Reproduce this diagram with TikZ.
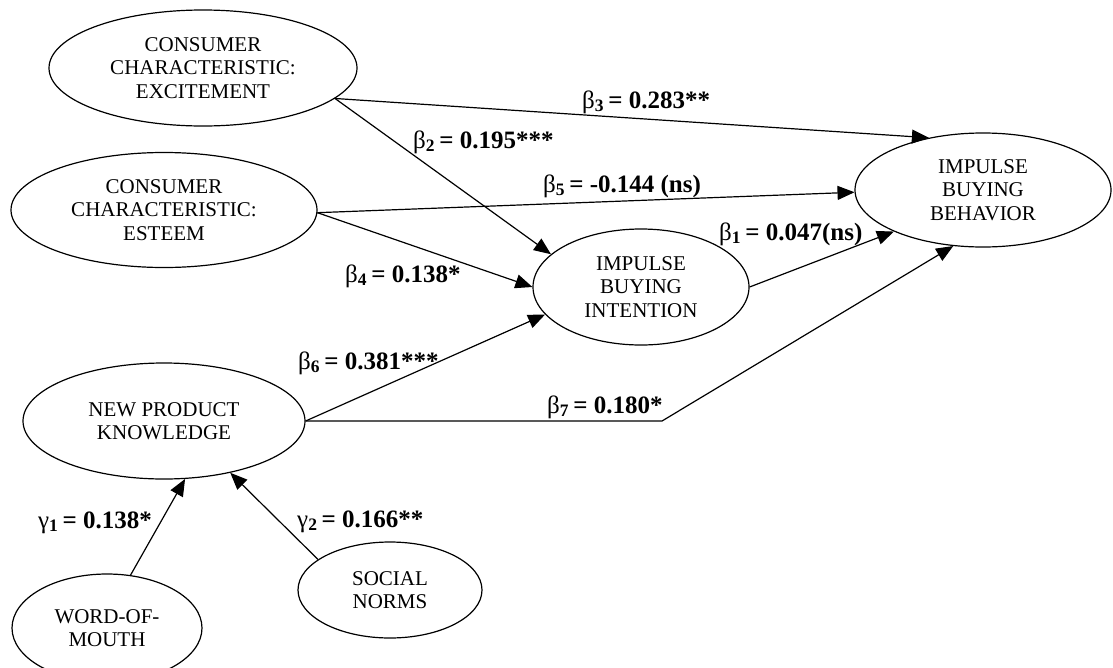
\documentclass[tikz,border=0pt]{standalone}
\usepackage{fontspec}
\setmainfont{Liberation Serif}
\usetikzlibrary{shapes.geometric, arrows.meta}

\newcommand{\pathcoef}[2]{{\mdseries #1}\textsubscript{#2}\,= }

\begin{document}
\begin{tikzpicture}[x=1pt, y=-1pt]
        \tikzset{construct/.style={ellipse,draw,line width=1.2pt,inner sep=0pt,align=center,font=\fontsize{21}{23.5}\selectfont}}
        \tikzset{link/.style={draw,line width=1.2pt,-{Triangle[length=17pt,width=14pt]}}}
        \tikzset{coef/.style={anchor=base west,inner sep=0pt,font=\fontsize{25}{29}\selectfont\bfseries}}
        \useasboundingbox (0,0) rectangle (1113,667);

        \node[construct,minimum width=308pt,minimum height=116pt] (exc) at (203, 68) {CONSUMER\\CHARACTERISTIC:\\EXCITEMENT};
        \node[construct,minimum width=306pt,minimum height=115pt] (est) at (164, 210) {CONSUMER\\CHARACTERISTIC:\\ESTEEM};
        \node[construct,minimum width=256pt,minimum height=114pt] (beh) at (983, 190) {IMPULSE\\BUYING\\BEHAVIOR};
        \node[construct,minimum width=216pt,minimum height=116pt] (int) at (641, 287) {IMPULSE\\BUYING\\INTENTION};
        \node[construct,minimum width=282pt,minimum height=116pt] (npk) at (164, 421) {NEW PRODUCT\\KNOWLEDGE};
        \node[construct,minimum width=190pt,minimum height=108pt] (wom) at (107, 628) {WORD-OF-\\MOUTH};
        \node[construct,minimum width=184pt,minimum height=96pt] (sn) at (390, 590) {SOCIAL\\NORMS};
        \coordinate (bend) at (662, 421);

        \draw[link] (exc.-13) -- (beh.136);
        \draw[link] (exc.-13) -- (int.160);
        \draw[link] (est.-1) -- (beh.181);
        \draw[link] (est.-1) -- (int.180);
        \draw[link] (int.0) -- (beh.205);
        \draw[link] (npk.0) -- (int.196);
        \draw[link] (npk.0) -- (bend) -- (beh.242);
        \draw[link] (wom.66) -- (npk.-70);
        \draw[link] (sn.157) -- (npk.-38);

        \node[coef] (b3) at (582, 108) {\pathcoef{β}{3}0.283**};
        \node[coef] (b2) at (413, 148) {\pathcoef{β}{2}0.195***};
        \node[coef] (b5) at (543, 192) {\pathcoef{β}{5}-0.144 (ns)};
        \node[coef] (b1) at (719, 240) {\pathcoef{β}{1}0.047(ns)};
        \node[coef] (b4) at (345, 282) {\pathcoef{β}{4}0.138*};
        \node[coef] (b6) at (298, 369) {\pathcoef{β}{6}0.381***};
        \node[coef] (b7) at (547, 413) {\pathcoef{β}{7}0.180*};
        \node[coef] (g1) at (38, 528) {\pathcoef{γ}{1}0.138*};
        \node[coef] (g2) at (297, 527) {\pathcoef{γ}{2}0.166**};
\end{tikzpicture}
\end{document}
